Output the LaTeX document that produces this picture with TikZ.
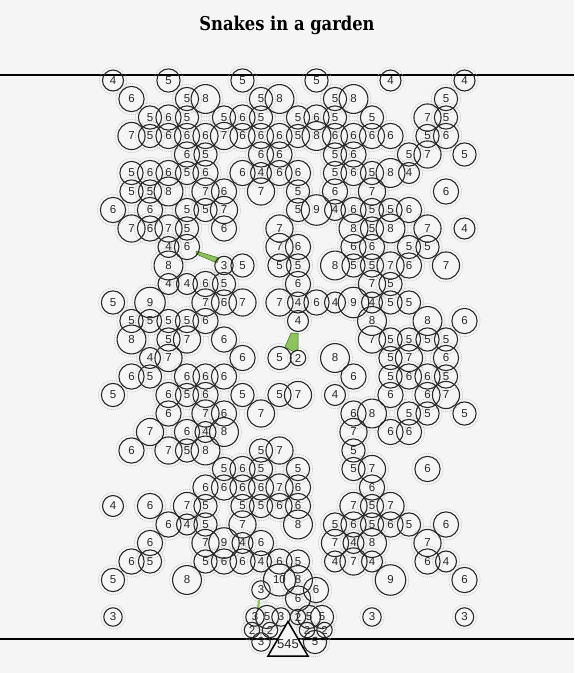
\documentclass[tikz,border=0pt]{standalone}
\usepackage{fontspec}
\setmainfont{Liberation Sans}
\newfontfamily\titlefont{DejaVu Serif}
\definecolor{bgc}{RGB}{246,245,245}
\definecolor{ink}{RGB}{40,40,40}
\definecolor{snakegreen}{RGB}{140,195,90}
\definecolor{snakeedge}{RGB}{70,110,40}
\tikzset{
  circ/.style={circle, draw=ink, line width=1.1pt, inner sep=0pt, font=\fontsize{11.5}{11.5}\selectfont, text=ink},
  ring/.style={draw=gray!55, line width=0.5pt, dash pattern=on 1pt off 1pt},
  rule/.style={line width=1.6pt, draw=black},
  snakebody/.style={fill=snakegreen, draw=snakeedge, line width=0.5pt, line join=round},
}
\def\circlist{0/0/4,3/0/5,7/0/5,11/0/5,15/0/4,19/0/4,
1/1/6,4/1/5,5/1/8,8/1/5,9/1/8,12/1/5,13/1/8,18/1/5,
2/2/5,3/2/6,4/2/5,6/2/5,7/2/6,8/2/5,10/2/5,11/2/6,12/2/5,14/2/5,17/2/7,18/2/5,
1/3/7,2/3/5,3/3/6,4/3/6,5/3/6,6/3/7,7/3/6,8/3/6,9/3/6,10/3/5,11/3/8,12/3/6,13/3/6,14/3/6,15/3/6,17/3/5,18/3/6,
4/4/6,5/4/5,8/4/6,9/4/6,12/4/5,13/4/6,16/4/5,17/4/7,19/4/5,
1/5/5,2/5/6,3/5/6,4/5/5,5/5/6,7/5/6,8/5/4,9/5/6,10/5/6,12/5/5,13/5/6,14/5/5,15/5/8,16/5/4,
1/6/5,2/6/5,3/6/8,5/6/7,6/6/6,8/6/7,10/6/5,12/6/6,14/6/7,18/6/6,
0/7/6,2/7/6,4/7/5,5/7/5,6/7/7,10/7/5,11/7/9,12/7/4,13/7/6,14/7/5,15/7/5,16/7/6,
1/8/7,2/8/6,3/8/7,4/8/5,6/8/6,9/8/7,13/8/8,14/8/5,15/8/8,17/8/7,19/8/4,
3/9/4,4/9/6,9/9/7,10/9/6,13/9/6,14/9/6,16/9/5,17/9/5,
3/10/8,6/10/3,7/10/5,9/10/5,10/10/5,12/10/8,13/10/5,14/10/5,15/10/7,16/10/6,18/10/7,
3/11/4,4/11/4,5/11/6,6/11/5,10/11/6,14/11/7,15/11/5,
0/12/5,2/12/9,5/12/7,6/12/6,7/12/7,9/12/7,10/12/4,11/12/6,12/12/4,13/12/9,14/12/4,15/12/5,16/12/5,
1/13/5,2/13/5,3/13/5,4/13/5,5/13/6,10/13/4,14/13/8,17/13/8,19/13/6,
1/14/8,3/14/5,4/14/7,6/14/6,14/14/7,15/14/5,16/14/5,17/14/5,18/14/5,
2/15/4,3/15/7,7/15/6,9/15/5,10/15/2,12/15/8,15/15/5,16/15/7,18/15/6,
1/16/6,2/16/5,4/16/6,5/16/6,6/16/6,13/16/6,15/16/5,16/16/6,17/16/6,18/16/5,
0/17/5,3/17/6,4/17/5,5/17/6,7/17/5,9/17/5,10/17/7,12/17/4,15/17/6,17/17/6,18/17/7,
3/18/6,5/18/7,6/18/6,8/18/7,13/18/6,14/18/8,16/18/5,17/18/5,19/18/5,
2/19/7,4/19/6,5/19/4,6/19/8,13/19/7,15/19/6,16/19/6,
1/20/6,3/20/7,4/20/5,5/20/8,8/20/5,9/20/7,13/20/5,
6/21/5,7/21/6,8/21/5,10/21/5,13/21/5,14/21/7,17/21/6,
5/22/6,6/22/6,7/22/6,8/22/6,9/22/7,10/22/6,14/22/6,
0/23/4,2/23/6,4/23/7,5/23/5,7/23/5,8/23/5,9/23/6,10/23/6,13/23/7,14/23/5,15/23/7,
3/24/6,4/24/4,5/24/5,7/24/7,10/24/8,12/24/5,13/24/6,14/24/5,15/24/6,16/24/5,18/24/6,
2/25/6,5/25/7,6/25/9,7/25/4,8/25/6,12/25/7,13/25/4,14/25/8,17/25/7,
1/26/6,2/26/5,5/26/5,6/26/6,7/26/6,8/26/4,9/26/6,10/26/5,12/26/4,13/26/7,14/26/4,17/26/6,18/26/4,
0/27/5,4/27/8,9/27/10,10/27/8,15/27/9,19/27/6,
10/28/6,
0/29/3,14/29/3,19/29/3}
% off-grid: name/x/y/n
\def\freelist{a/261/590/3,b/316/590/6,c/255/617/3,d/267/617/5,e/281/617/3,f/298/617/2,g/309/617/5,h/322/617/5,i/252/630/2,j/270/630/2,k/307/630/2,l/324.5/630/2,m/261/642/3,o/315/642/5}
\begin{document}
\begin{tikzpicture}[x=1pt,y=-1pt]
\fill[bgc] (0,0) rectangle (574,673);
\useasboundingbox (0,0) rectangle (574,673);
\node[font=\titlefont\bfseries\fontsize{19}{19}\selectfont, xscale=0.86] (title) at (287,25) {Snakes in a garden};
\draw[rule] (0,75) -- (574,75);
\draw[rule] (0,639) -- (574,639);
% rings
\foreach \c/\r/\n in \circlist {
  \pgfmathsetmacro\rad{1+4.75*sqrt(\n)+3}
  \draw[ring] (113+18.5*\c, 80.5+18.5*\r) circle (\rad);
}
\foreach \nm/\x/\y/\n in \freelist {
  \pgfmathsetmacro\rad{1+4.75*sqrt(\n)+3}
  \draw[ring] (\x,\y) circle (\rad);
}
% snakes
\draw[snakebody] (196,251) -- (219,258) -- (217,263) -- (196,254) -- cycle;
\draw[snakebody] (291,333) -- (298,333) -- (298,349) -- (294,352) -- (285,347) -- cycle;
\draw[draw=snakegreen, line width=2.2pt] (259,600) -- (258,610);
% circles
\foreach \c/\r/\n in \circlist {
  \pgfmathsetmacro\dia{2*(1+4.75*sqrt(\n))}
  \node[circ, minimum size=\dia pt] (n\r-\c) at (113+18.5*\c, 80.5+18.5*\r) {\n};
}
\foreach \nm/\x/\y/\n in \freelist {
  \pgfmathsetmacro\dia{2*(1+4.75*sqrt(\n))}
  \node[circ, minimum size=\dia pt] (f\nm) at (\x,\y) {\n};
}
% goal triangle
\filldraw[draw=black, fill=bgc, line width=1.5pt, line join=miter] (288,621.5) -- (308,656) -- (268,656) -- cycle;
\node[inner sep=0pt, font=\fontsize{13}{13}\selectfont, text=ink] (goal) at (288,644.5) {545};
\end{tikzpicture}
\end{document}
